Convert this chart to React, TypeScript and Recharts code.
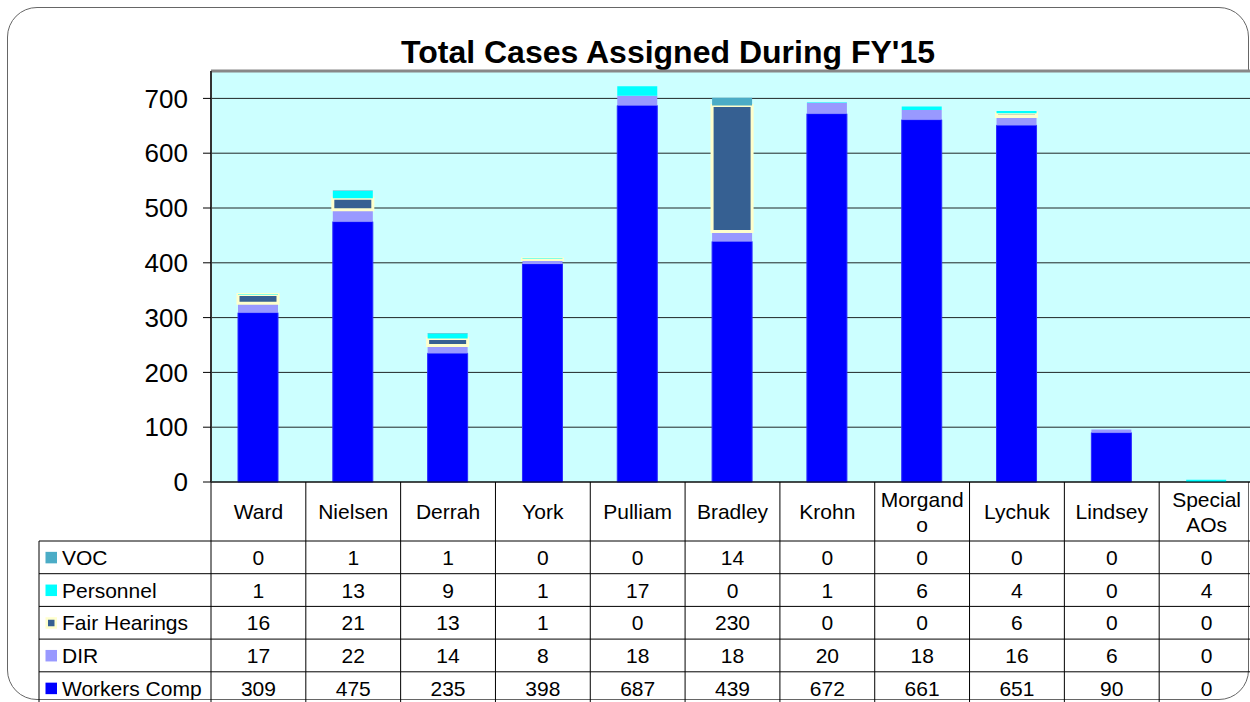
import React from 'react';
import { BarChart, Bar, XAxis, YAxis, CartesianGrid, ReferenceLine } from 'recharts';

const categories = ['Ward', 'Nielsen', 'Derrah', 'York', 'Pulliam', 'Bradley', 'Krohn', 'Morgando', 'Lychuk', 'Lindsey', 'Special AOs'];
const headerLabels = ['Ward', 'Nielsen', 'Derrah', 'York', 'Pulliam', 'Bradley', 'Krohn', 'Morgand\no', 'Lychuk', 'Lindsey', 'Special\nAOs'];

const voc = [0, 1, 1, 0, 0, 14, 0, 0, 0, 0, 0];
const personnel = [1, 13, 9, 1, 17, 0, 1, 6, 4, 0, 4];
const fairHearings = [16, 21, 13, 1, 0, 230, 0, 0, 6, 0, 0];
const dir = [17, 22, 14, 8, 18, 18, 20, 18, 16, 6, 0];
const workersComp = [309, 475, 235, 398, 687, 439, 672, 661, 651, 90, 0];

const yTicks = [0, 100, 200, 300, 400, 500, 600, 700];

// table rows, top to bottom
const series = [
  { key: 'voc', name: 'VOC', values: voc, color: '#4BACC6' },
  { key: 'personnel', name: 'Personnel', values: personnel, color: '#00FFFF' },
  { key: 'fairHearings', name: 'Fair Hearings', values: fairHearings, color: '#366092', border: '#FFFFCC' },
  { key: 'dir', name: 'DIR', values: dir, color: '#9999FF' },
  { key: 'workersComp', name: 'Workers Comp', values: workersComp, color: '#0000FF' },
];

const data = categories.map((name, i) => ({
  name,
  voc: voc[i],
  personnel: personnel[i],
  fairHearings: fairHearings[i],
  dir: dir[i],
  workersComp: workersComp[i],
}));

const FONT = '"Liberation Sans", Arial, sans-serif';
const PLOT_LEFT = 211;
const PLOT_RIGHT = 1254;
const COL_W = (PLOT_RIGHT - PLOT_LEFT) / categories.length;
const HEADER_H = 59;
const ROW_H = 32.7;
const LABEL_LEFT = 39;

function TableColumn(props: any) {
  const { x, y, index } = props;
  const left = x - COL_W / 2;
  const right = x + COL_W / 2;
  const bottom = y + HEADER_H + ROW_H * series.length;
  const lines = headerLabels[index].split('\n');
  const hc = y + HEADER_H / 2;

  return (
    <g fontFamily={FONT} fontSize={21} fill="#000">
      {index === 0 && <line x1={left} y1={y} x2={left} y2={bottom} stroke="#000" />}
      <line x1={right} y1={y} x2={right} y2={bottom} stroke="#000" />
      {lines.map((t, k) => (
        <text key={k} x={x} y={hc + (k - (lines.length - 1) / 2) * 25} dy="0.36em" textAnchor="middle">
          {t}
        </text>
      ))}
      {series.map((s, r) => {
        const top = y + HEADER_H + r * ROW_H;
        return (
          <g key={s.key}>
            <line x1={left} y1={top} x2={right} y2={top} stroke="#000" />
            <text x={x} y={top + ROW_H / 2} dy="0.36em" textAnchor="middle">
              {s.values[index]}
            </text>
          </g>
        );
      })}
      {index === 0 && (
        <g>
          <line x1={LABEL_LEFT} y1={y + HEADER_H} x2={LABEL_LEFT} y2={bottom} stroke="#000" />
          {series.map((s, r) => {
            const top = y + HEADER_H + r * ROW_H;
            const mid = top + ROW_H / 2;
            return (
              <g key={s.key}>
                <line x1={LABEL_LEFT} y1={top} x2={left} y2={top} stroke="#000" />
                {s.border ? (
                  <g>
                    <rect x={45.5} y={mid - 5.5} width={11.5} height={11.5} fill={s.border} />
                    <rect x={48} y={mid - 3} width={6.5} height={6.5} fill={s.color} />
                  </g>
                ) : (
                  <rect x={45.5} y={mid - 5.5} width={11.5} height={11.5} fill={s.color} />
                )}
                <text x={62} y={mid} dy="0.36em" textAnchor="start">
                  {s.name}
                </text>
              </g>
            );
          })}
        </g>
      )}
    </g>
  );
}

export default function App() {
  return (
    <div style={{ position: 'absolute', left: 0, top: 0, width: 1250, height: 702, overflow: 'hidden', background: '#fff' }}>
      <div
        style={{
          position: 'absolute',
          left: 7,
          top: 7,
          width: 1242,
          height: 693,
          border: '1.5px solid #666',
          borderRadius: 30,
          boxSizing: 'border-box',
        }}
      />
      <div
        style={{
          position: 'absolute',
          left: 0,
          top: 36,
          width: 1336,
          textAlign: 'center',
          fontFamily: FONT,
          fontWeight: 'bold',
          fontSize: 32,
          lineHeight: '32px',
          color: '#000',
        }}
      >
        Total Cases Assigned During FY'15
      </div>
      <div style={{ position: 'absolute', left: 0, top: 0 }}>
        <BarChart
          width={1260}
          height={702}
          data={data}
          margin={{ top: 71, right: 6, bottom: 0, left: 0 }}
          barSize={40}
        >
          <CartesianGrid vertical={false} fill="#CCFFFF" stroke="#000" strokeOpacity={0.85} />
          <XAxis
            dataKey="name"
            height={220}
            interval={0}
            tickLine={false}
            tickSize={0}
            tickMargin={0}
            axisLine={{ stroke: '#000' }}
            tick={<TableColumn />}
          />
          <YAxis
            width={PLOT_LEFT}
            domain={[0, 750]}
            ticks={yTicks}
            interval={0}
            tickSize={8}
            tickMargin={15}
            axisLine={{ stroke: '#333', strokeWidth: 2 }}
            tickLine={{ stroke: '#000' }}
            tick={{ fontSize: 26, fill: '#000', fontFamily: FONT }}
          />
          <ReferenceLine y={750} stroke="#888" strokeWidth={3} />
          <Bar dataKey="workersComp" stackId="a" fill="#0000FF" stroke="#2a2aff" strokeWidth={1} isAnimationActive={false} />
          <Bar dataKey="dir" stackId="a" fill="#9999FF" isAnimationActive={false} />
          <Bar dataKey="fairHearings" stackId="a" fill="#366092" stroke="#FFFFCC" strokeWidth={3} isAnimationActive={false} />
          <Bar dataKey="personnel" stackId="a" fill="#00FFFF" isAnimationActive={false} />
          <Bar dataKey="voc" stackId="a" fill="#4BACC6" isAnimationActive={false} />
        </BarChart>
      </div>
    </div>
  );
}
